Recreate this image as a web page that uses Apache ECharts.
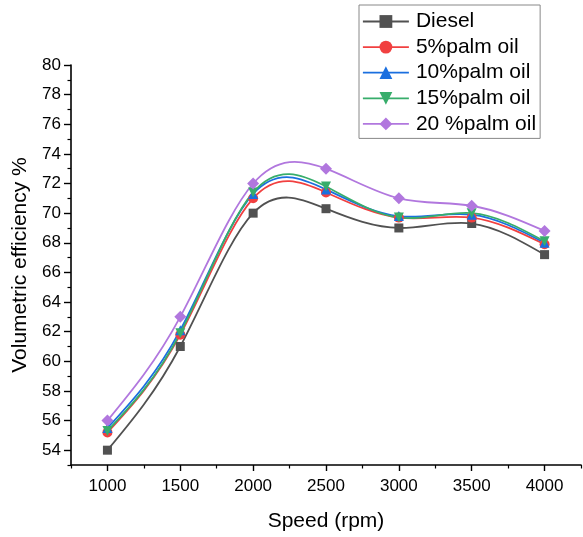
<!DOCTYPE html>
<html>
<head>
<meta charset="utf-8">
<script src="https://cdn.jsdelivr.net/npm/echarts@6/dist/echarts.min.js"></script>
<style>
html,body{margin:0;padding:0;background:#fff;}
#chart{width:583px;height:537px;}
</style>
</head>
<body>
<div id="chart"></div>
<script>
const speeds = [1000, 1500, 2000, 2500, 3000, 3500, 4000];
const diesel = [54, 61, 70, 70.3, 69, 69.3, 67.2];
const palm5 = [55.2, 61.8, 71, 71.4, 69.7, 69.7, 67.9];
const palm10 = [55.5, 62.1, 71.3, 71.6, 69.8, 69.9, 68.0];
const palm15 = [55.3, 61.9, 71.4, 71.8, 69.7, 70.0, 68.1];
const palm20 = [56, 63, 72, 73, 71, 70.5, 68.8];
const seriesNames = ['Diesel', '5%palm oil', '10%palm oil', '15%palm oil', '20 %palm oil'];
const xMajorTicks = [1000, 1500, 2000, 2500, 3000, 3500, 4000];
const xMinorTicks = [750, 1250, 1750, 2250, 2750, 3250, 3750, 4250];
const yMajorTicks = [54, 56, 58, 60, 62, 64, 66, 68, 70, 72, 74, 76, 78, 80];
const yMinorTicks = [53, 55, 57, 59, 61, 63, 65, 67, 69, 71, 73, 75, 77, 79];

const colors = ['#515151', '#F14040', '#1A6FDF', '#37AD6B', '#B177DE'];
const symbols = ['rect', 'circle', 'triangle', 'path://M0,0 L2,0 L1,2 Z', 'diamond'];
const symbolSizes = [9, 10, 10, 10, 12];
const allData = [diesel, palm5, palm10, palm15, palm20];

const font = 'Liberation Sans, Arial, sans-serif';
const axisLine = {show: true, lineStyle: {color: '#000', width: 1.6}};
const LW = 1.8;

// Natural cubic spline slopes (rendering of the curve through the read points)
function splineSlopes(xs, ys) {
  const n = xs.length - 1;
  const h = [], M = new Array(n + 1).fill(0);
  for (let i = 0; i < n; i++) h.push(xs[i + 1] - xs[i]);
  const a = [], b = [], c = [], d = [];
  for (let i = 1; i < n; i++) {
    a.push(h[i - 1]); b.push(2 * (h[i - 1] + h[i])); c.push(h[i]);
    d.push(6 * ((ys[i + 1] - ys[i]) / h[i] - (ys[i] - ys[i - 1]) / h[i - 1]));
  }
  const m = b.length;
  for (let i = 1; i < m; i++) {
    const w = a[i] / b[i - 1];
    b[i] -= w * c[i - 1]; d[i] -= w * d[i - 1];
  }
  const sol = new Array(m);
  for (let i = m - 1; i >= 0; i--) sol[i] = (d[i] - (i < m - 1 ? c[i] * sol[i + 1] : 0)) / b[i];
  for (let i = 1; i < n; i++) M[i] = sol[i - 1];
  const s = [];
  for (let i = 0; i < n; i++) s.push((ys[i + 1] - ys[i]) / h[i] - h[i] * (2 * M[i] + M[i + 1]) / 6);
  s.push((ys[n] - ys[n - 1]) / h[n - 1] + h[n - 1] * (M[n - 1] + 2 * M[n]) / 6);
  return s;
}

const series = [];
seriesNames.forEach((name, i) => {
  const ys = allData[i];
  const slopes = splineSlopes(speeds, ys);
  series.push({
    name: name + '_curve',
    type: 'custom',
    coordinateSystem: 'cartesian2d',
    data: speeds.map((s, j) => [s, ys[j]]),
    encode: {x: 0, y: 1},
    silent: true,
    z: 2,
    renderItem: function (params, api) {
      const j = params.dataIndex;
      if (j >= speeds.length - 1) return null;
      const hh = speeds[j + 1] - speeds[j];
      const p0 = api.coord([speeds[j], ys[j]]);
      const c1 = api.coord([speeds[j] + hh / 3, ys[j] + slopes[j] * hh / 3]);
      const c2 = api.coord([speeds[j + 1] - hh / 3, ys[j + 1] - slopes[j + 1] * hh / 3]);
      const p1 = api.coord([speeds[j + 1], ys[j + 1]]);
      return {
        type: 'bezierCurve',
        shape: {x1: p0[0], y1: p0[1], x2: p1[0], y2: p1[1], cpx1: c1[0], cpy1: c1[1], cpx2: c2[0], cpy2: c2[1]},
        style: {stroke: colors[i], lineWidth: LW, fill: null}
      };
    }
  });
});
seriesNames.forEach((name, i) => {
  series.push({
    name: name,
    type: 'line',
    data: speeds.map((s, j) => [s, allData[i][j]]),
    symbol: symbols[i],
    symbolSize: symbolSizes[i],
    showSymbol: true,
    itemStyle: {color: colors[i]},
    lineStyle: {color: colors[i], width: LW, opacity: 0},
    z: 3 + i
  });
});

const chart = echarts.init(document.getElementById('chart'));
chart.setOption({
  animation: false,
  backgroundColor: '#fff',
  grid: {left: 71, right: 2, top: 65, bottom: 68, containLabel: false},
  legend: {
    left: 359, top: 5, orient: 'vertical',
    padding: [6, 4, 4, 3],
    borderColor: '#888', borderWidth: 1,
    itemWidth: 46, itemHeight: 16, itemGap: 4.6,
    selectedMode: false,
    textStyle: {fontFamily: font, fontSize: 21, color: '#000', padding: [0, 0, 0, 2]},
    data: seriesNames.map((n, i) => ({name: n, lineStyle: {color: colors[i], width: LW, opacity: 1}}))
  },
  xAxis: [{
    type: 'value', min: 750, max: 4250,
    name: 'Speed (rpm)', nameLocation: 'middle', nameGap: 46,
    nameTextStyle: {fontFamily: font, fontSize: 21, color: '#000'},
    axisLine: axisLine,
    splitLine: {show: false},
    axisTick: {show: true, length: 6, customValues: xMajorTicks, lineStyle: {color: '#000', width: 1.4}},
    axisLabel: {customValues: xMajorTicks, formatter: v => String(v), fontFamily: font, fontSize: 17, color: '#000', margin: 13}
  }, {
    type: 'value', min: 750, max: 4250, position: 'bottom',
    axisLine: {show: false}, splitLine: {show: false},
    axisTick: {show: true, length: 3.5, customValues: xMinorTicks, lineStyle: {color: '#000', width: 1.2}},
    axisLabel: {show: false}
  }],
  yAxis: [{
    type: 'value', min: 53, max: 80,
    name: 'Volumetric efficiency %', nameLocation: 'middle', nameGap: 36, nameRotate: 90,
    nameTextStyle: {fontFamily: font, fontSize: 21, color: '#000'},
    axisLine: axisLine,
    splitLine: {show: false},
    axisTick: {show: true, length: 7, customValues: yMajorTicks, lineStyle: {color: '#000', width: 1.4}},
    axisLabel: {customValues: yMajorTicks, fontFamily: font, fontSize: 17, color: '#000', margin: 10}
  }, {
    type: 'value', min: 53, max: 80, position: 'left',
    axisLine: {show: false}, splitLine: {show: false},
    axisTick: {show: true, length: 3.5, customValues: yMinorTicks, lineStyle: {color: '#000', width: 1.2}},
    axisLabel: {show: false}
  }],
  series: series
});
</script>
</body>
</html>
